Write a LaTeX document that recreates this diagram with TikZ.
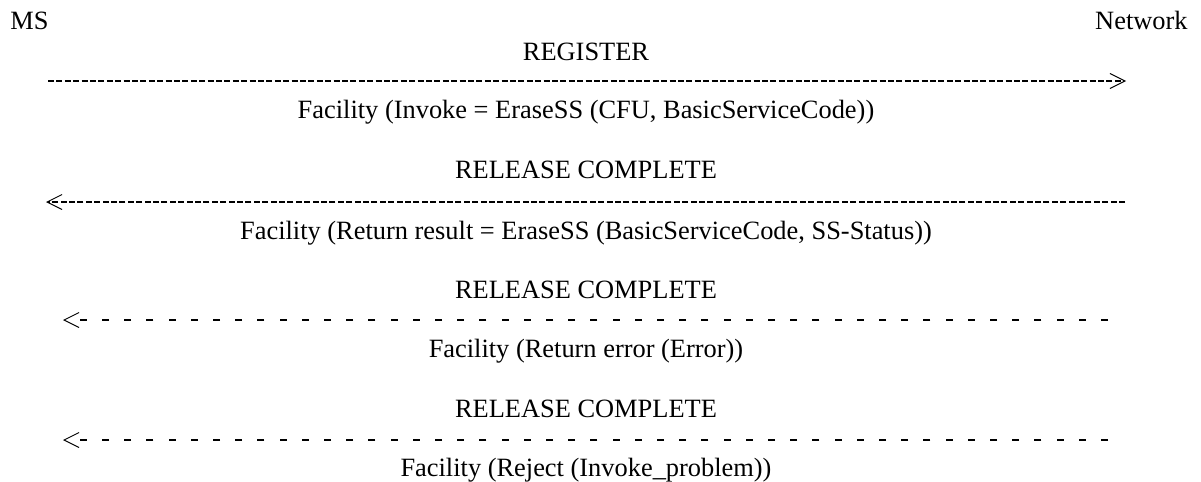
\documentclass[tikz,border=0pt]{standalone}
\usepackage{fontspec}
\setmainfont{Liberation Serif}
\usetikzlibrary{arrows.meta}

\begin{document}
\begin{tikzpicture}[x=0.5pt, y=-0.5pt, font=\fontsize{13.2}{15}\selectfont]
    \tikzset{
        party/.style={inner sep=0pt},
        msglabel/.style={inner sep=0pt, anchor=base},
        barb/.tip={Straight Barb[length=7.5pt, width=7.5pt, line width=0.5pt]},
        fullmsg/.style={line width=0.9pt, dash pattern=on 3pt off 1.2pt},
        optmsg/.style={line width=0.9pt, dash pattern=on 3.5pt off 7.6pt}
    }
    \useasboundingbox (0,0) rectangle (1201,482);

    % parties
    \node[party, anchor=base west] (ms) at (10,29) {MS};
    \node[party, anchor=base east] (net) at (1188,29) {Network};

    % REGISTER
    \node[msglabel] (reg) at (586,61) {REGISTER};
    \coordinate (r1a) at (48,81);
    \coordinate (r1b) at (1126,81);
    \draw[fullmsg, -barb] (r1a) -- (r1b);
    \node[msglabel] (fac1) at (586,118) {Facility (Invoke = EraseSS (CFU, BasicServiceCode))};

    % RELEASE COMPLETE, result
    \node[msglabel] (rel1) at (586,178) {RELEASE COMPLETE};
    \coordinate (r2a) at (1125,202);
    \coordinate (r2b) at (46,202);
    \draw[fullmsg, -barb] (r2a) -- (r2b);
    \node[msglabel] (fac2) at (586,239) {Facility (Return result = EraseSS (BasicServiceCode, SS-Status))};

    % RELEASE COMPLETE, error
    \node[msglabel] (rel2) at (586,298) {RELEASE COMPLETE};
    \coordinate (r3a) at (1108,320);
    \coordinate (r3b) at (63,320);
    \draw[optmsg, -barb] (r3a) -- (r3b);
    \node[msglabel] (fac3) at (586,357) {Facility (Return error (Error))};

    % RELEASE COMPLETE, reject
    \node[msglabel] (rel3) at (586,417) {RELEASE COMPLETE};
    \coordinate (r4a) at (1108,440);
    \coordinate (r4b) at (63,440);
    \draw[optmsg, -barb] (r4a) -- (r4b);
    \node[msglabel] (fac4) at (586,476) {Facility (Reject (Invoke\_problem))};
\end{tikzpicture}
\end{document}
